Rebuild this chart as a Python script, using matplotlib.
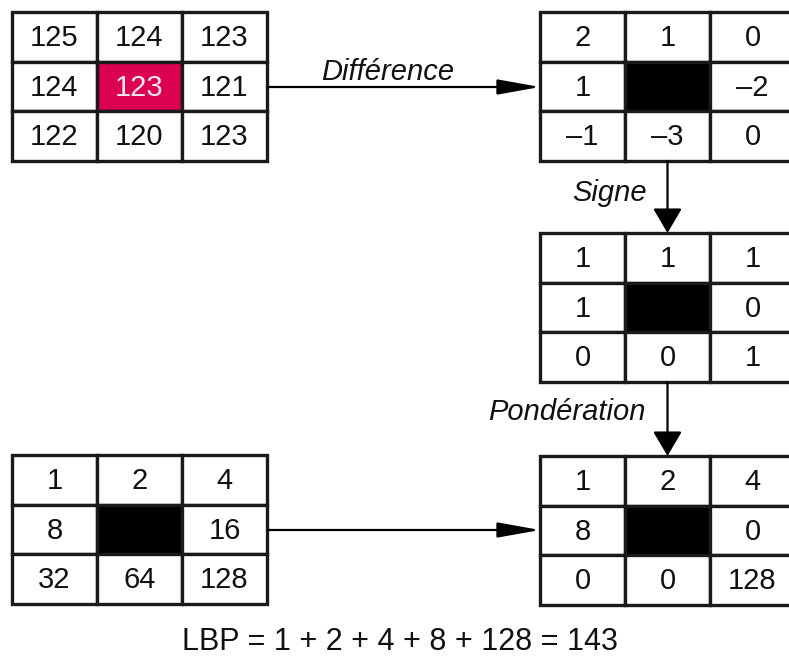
import matplotlib.pyplot as plt
from matplotlib.patches import Rectangle, FancyArrowPatch

plt.rcParams['font.family'] = ['Liberation Sans', 'DejaVu Sans']

# valeurs des grilles (None = pixel central noir)
pixels = [["125", "124", "123"],
          ["124", "123", "121"],
          ["122", "120", "123"]]
difference = [["2", "1", "0"],
              ["1", None, "\u20132"],
              ["\u20131", "\u20133", "0"]]
signe = [["1", "1", "1"],
         ["1", None, "0"],
         ["0", "0", "1"]]
poids = [["1", "2", "4"],
         ["8", None, "16"],
         ["32", "64", "128"]]
pondere = [["1", "2", "4"],
           ["8", None, "0"],
           ["0", "0", "128"]]
etapes = ["Diff\u00e9rence", "Signe", "Pond\u00e9ration"]
formule = "LBP = 1 + 2 + 4 + 8 + 128 = 143"

CW, CH = 85, 49.7
FS = 21
rose = "#dc0050"
encre = "#111111"

fig = plt.figure(figsize=(7.89, 6.61), dpi=100)
ax = fig.add_axes([0, 0, 1, 1])
ax.set_xlim(0, 789)
ax.set_ylim(661, 0)
ax.axis("off")


def grille(x0, y0, vals, centre=None):
    for r in range(3):
        for c in range(3):
            v = vals[r][c]
            fc = "white"
            if v is None:
                fc = "black"
            elif r == 1 and c == 1 and centre:
                fc = centre
            ax.add_patch(Rectangle((x0 + c * CW, y0 + r * CH), CW, CH,
                                   facecolor=fc, edgecolor="#1a1a1a", lw=2.4))
            if v is not None:
                col = "#f4e8ee" if (r == 1 and c == 1) else encre
                ax.text(x0 + c * CW + CW / 2, y0 + r * CH + CH / 2 + 1, v,
                        fontsize=FS, ha="center", va="center", color=col)


def fleche(p1, p2, style):
    ax.add_patch(FancyArrowPatch(p1, p2, arrowstyle=style,
                                 mutation_scale=18, color="black", lw=1.6,
                                 shrinkA=0, shrinkB=0))


horiz = "-|>,head_length=1.45,head_width=0.26"
vert = "-|>,head_length=0.85,head_width=0.5"

grille(12, 12, pixels, centre=rose)
grille(540, 12, difference)
grille(540, 233, signe)
grille(12, 455, poids)
grille(540, 456, pondere)

fleche((268, 87), (540, 87), horiz)
fleche((667.5, 161), (667.5, 233), vert)
fleche((667.5, 382), (667.5, 456), vert)
fleche((268, 530), (540, 530), horiz)

ax.text(388, 72, etapes[0], fontsize=FS, style="italic", ha="center", va="center", color=encre)
ax.text(647, 193, etapes[1], fontsize=FS, style="italic", ha="right", va="center", color=encre)
ax.text(646, 412, etapes[2], fontsize=FS, style="italic", ha="right", va="center", color=encre)
ax.text(400, 642, formule, fontsize=22, ha="center", va="center", color=encre)

fig.savefig("out.png", dpi=100)
